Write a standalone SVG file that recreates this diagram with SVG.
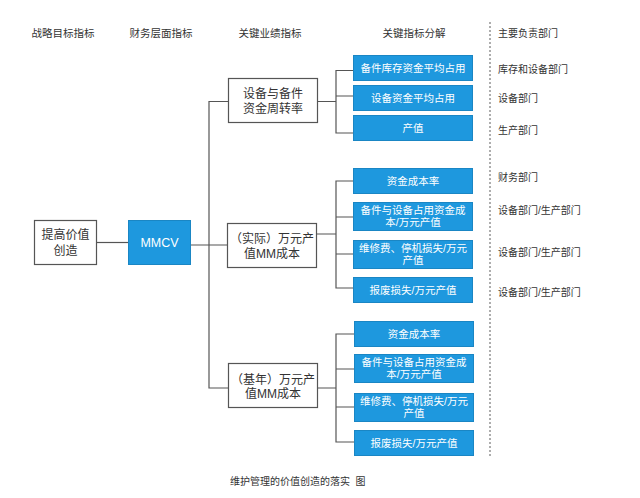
<svg xmlns="http://www.w3.org/2000/svg" width="640" height="498" viewBox="0 0 640 498">
<style>
text{font-family:"Liberation Sans","Noto Sans CJK SC",sans-serif;fill:#333;}
.h{font-size:10.5px;text-anchor:middle;}
.d{font-size:10px;}
.w{fill:#fff;stroke:#555;stroke-width:1.2;}
.b{fill:#1E98DE;stroke:#1A86C4;stroke-width:1;}
.bt{font-size:10.5px;fill:#fff;text-anchor:middle;}
.nt{font-size:12px;text-anchor:middle;}
.c{fill:none;stroke:#555;stroke-width:1.2;}
</style>
<rect width="640" height="498" fill="#fff"/>
<g id="headers">
<text class="h" x="63" y="37">战略目标指标</text>
<text class="h" x="161" y="37">财务层面指标</text>
<text class="h" x="270" y="37">关键业绩指标</text>
<text class="h" x="414" y="37">关键指标分解</text>
<text class="d" x="498" y="37">主要负责部门</text>
</g>
<line x1="490" y1="22" x2="490" y2="456" stroke="#777" stroke-width="1.2" stroke-dasharray="2,2"/>
<g id="connectors">
<path class="c" d="M97 242.5H128"/>
<path class="c" d="M191 245H227"/>
<path class="c" d="M228 101.5H209V388H228"/>
<path class="c" d="M318 101.5H336M354 70.5H336V133H354M336 96H354"/>
<path class="c" d="M317 234H336M354 181H336V288H354M336 217H354M336 254H354"/>
<path class="c" d="M317 388H336M354 334H336V442H354M336 369H354M336 407H354"/>
</g>
<g id="goal"><rect class="w" x="34.5" y="220.5" width="62" height="44"/><text class="nt" x="65.5" y="239">提高价值</text><text class="nt" x="65.5" y="255">创造</text></g>
<g id="mmcv"><rect class="b" x="128.5" y="220.5" width="62" height="44"/><text class="bt" style="font-size:12.5px" x="159.5" y="247">MMCV</text></g>
<g id="kpi1"><rect class="w" x="228.5" y="78.5" width="89" height="44"/><text class="nt" x="273" y="98">设备与备件</text><text class="nt" x="273" y="113">资金周转率</text></g>
<g id="kpi2"><rect class="w" x="227.5" y="223.5" width="89" height="44"/><text class="nt" x="272" y="243">（实际）万元产</text><text class="nt" x="272" y="258">值MM成本</text></g>
<g id="kpi3"><rect class="w" x="228.5" y="363.5" width="89" height="44"/><text class="nt" x="273" y="384">（基年）万元产</text><text class="nt" x="273" y="398">值MM成本</text></g>
<g id="g1a"><rect class="b" x="353.5" y="55.5" width="119" height="25"/><text class="bt" x="413" y="72">备件库存资金平均占用</text></g>
<g id="g1b"><rect class="b" x="353.5" y="85.5" width="119" height="25"/><text class="bt" x="413" y="102">设备资金平均占用</text></g>
<g id="g1c"><rect class="b" x="353.5" y="115.5" width="119" height="25"/><text class="bt" x="413" y="132">产值</text></g>
<g id="g2a"><rect class="b" x="353.5" y="168.5" width="119" height="25"/><text class="bt" x="413" y="185">资金成本率</text></g>
<g id="g2b"><rect class="b" x="353.5" y="202.5" width="119" height="28"/><text class="bt" x="413" y="214">备件与设备占用资金成</text><text class="bt" x="413" y="226">本/万元产值</text></g>
<g id="g2c"><rect class="b" x="353.5" y="240.5" width="119" height="28"/><text class="bt" x="413" y="252">维修费、停机损失/万元</text><text class="bt" x="413" y="264">产值</text></g>
<g id="g2d"><rect class="b" x="353.5" y="277.5" width="119" height="25"/><text class="bt" x="413" y="294">报废损失/万元产值</text></g>
<g id="g3a"><rect class="b" x="354.5" y="321.5" width="119" height="25"/><text class="bt" x="414" y="338">资金成本率</text></g>
<g id="g3b"><rect class="b" x="354.5" y="354.5" width="119" height="28"/><text class="bt" x="414" y="366">备件与设备占用资金成</text><text class="bt" x="414" y="378">本/万元产值</text></g>
<g id="g3c"><rect class="b" x="354.5" y="393.5" width="119" height="28"/><text class="bt" x="414" y="405">维修费、停机损失/万元</text><text class="bt" x="414" y="417">产值</text></g>
<g id="g3d"><rect class="b" x="354.5" y="430.5" width="119" height="25"/><text class="bt" x="414" y="447">报废损失/万元产值</text></g>
<g id="depts">
<text class="d" x="498" y="73">库存和设备部门</text>
<text class="d" x="498" y="102">设备部门</text>
<text class="d" x="498" y="134">生产部门</text>
<text class="d" x="498" y="181">财务部门</text>
<text class="d" x="498" y="214">设备部门/生产部门</text>
<text class="d" x="498" y="256">设备部门/生产部门</text>
<text class="d" x="498" y="296">设备部门/生产部门</text>
</g>
<text class="d" x="230" y="485">维护管理的价值创造的落实&#160;&#160;图</text>
</svg>
